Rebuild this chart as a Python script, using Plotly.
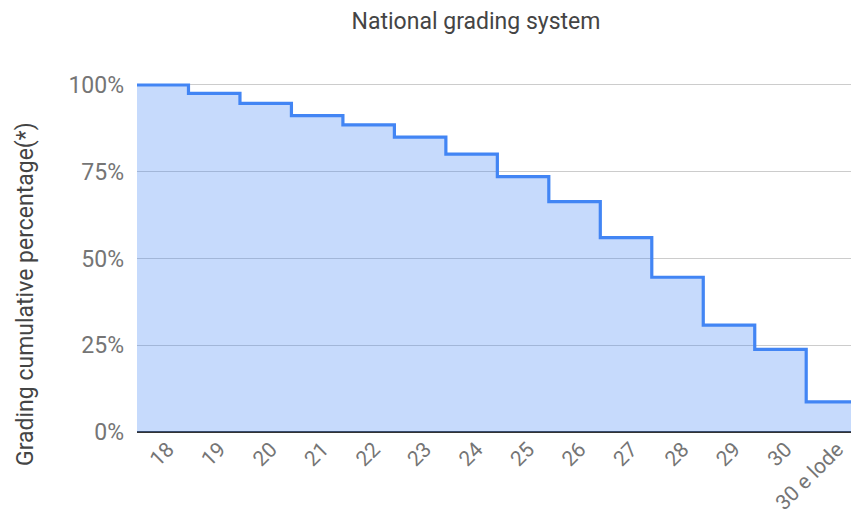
import plotly.graph_objects as go

grades = ["18", "19", "20", "21", "22", "23", "24", "25", "26", "27", "28", "29", "30", "30 e lode"]
cumulative = [1.000, 0.976, 0.947, 0.912, 0.885, 0.850, 0.801, 0.736, 0.664, 0.560, 0.446, 0.308, 0.238, 0.087]
y_ticks = [0, 0.25, 0.5, 0.75, 1.0]
y_tick_text = ["0%", "25%", "50%", "75%", "100%"]

idx = list(range(len(grades)))
xs = idx + [len(grades)]
ys = cumulative + [cumulative[-1]]

W, H = 851, 519
plot_left, plot_right, plot_top, plot_bottom = 137, 851, 81, 432
FS = 23

fig = go.Figure()
fig.add_trace(go.Scatter(
    x=xs, y=ys, mode="lines", line=dict(shape="hv", color="#4285F4", width=3.2),
    fill="tozeroy", fillcolor="rgba(66,133,244,0.3)", hoverinfo="skip", showlegend=False,
))

font = "Roboto, Arial, sans-serif"
fig.update_layout(
    width=W, height=H,
    margin=dict(l=plot_left, r=W - plot_right, t=plot_top, b=H - plot_bottom, pad=0, autoexpand=False),
    paper_bgcolor="white", plot_bgcolor="white",
    title=dict(text="National grading system", x=476 / W, xanchor="center", yref="container",
               y=1 - 21 / H, yanchor="middle", font=dict(family=font, size=FS, color="#444444")),
    font=dict(family=font, size=FS, color="#757575"),
)
fig.update_xaxes(
    range=[0, 13.87], tickmode="array", tickvals=[i + 0.6 for i in idx], ticktext=grades,
    tickangle=-45, showgrid=False, zeroline=False, showline=False, ticks="", automargin=False,
    ticklabeloverflow="allow", ticklabelstandoff=0,
    tickfont=dict(family=font, size=21, color="#757575"), fixedrange=True,
)
fig.update_yaxes(
    range=[0, 1.0115], tickmode="array", tickvals=y_ticks, ticktext=y_tick_text,
    showgrid=True, gridcolor="#cccccc", gridwidth=1, zeroline=True, zerolinecolor="#333333",
    zerolinewidth=1.5, showline=False, ticks="", ticklabelstandoff=12, automargin=False,
    tickfont=dict(family=font, size=FS, color="#757575"), fixedrange=True,
)
fig.add_annotation(
    text="Grading cumulative percentage(*)", textangle=-90, xref="paper", yref="paper",
    x=(25 - plot_left) / (plot_right - plot_left), xanchor="center",
    y=(plot_bottom - 294) / (plot_bottom - plot_top), yanchor="middle", showarrow=False,
    font=dict(family=font, size=FS, color="#444444"),
)
fig.write_html("out.html", config={"displayModeBar": False},
               post_script="document.body.style.margin='0px';document.body.style.overflow='hidden';")
